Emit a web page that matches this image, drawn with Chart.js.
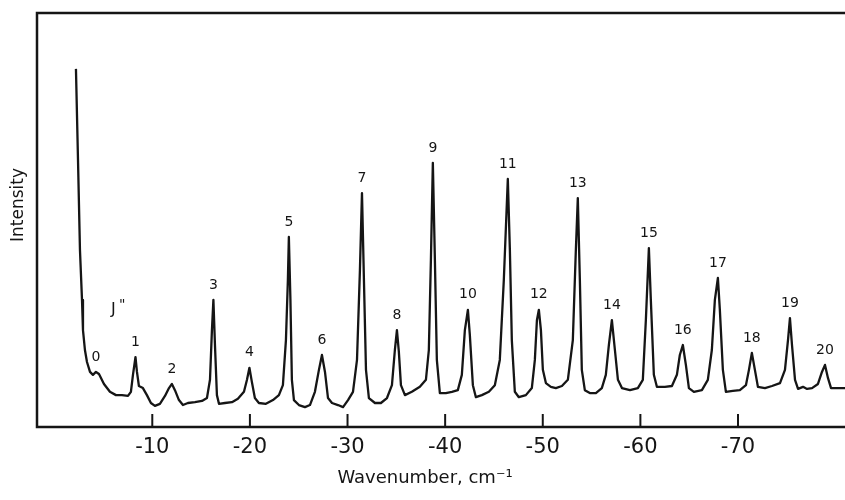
<!DOCTYPE html>
<html>
<head>
<meta charset="utf-8">
<script src="https://cdn.jsdelivr.net/npm/chart.js@4"></script>
<style>
  html, body { margin: 0; padding: 0; background: #fff; }
  canvas { display: block; }
</style>
</head>
<body>
<canvas id="spectrum" width="845" height="500"></canvas>
<script>
// Raman spectrum, wavenumber shift (cm-1) vs intensity (arbitrary units, 0..100)
const wavenumber = [
  -2.18,-2.39,-2.59,-2.80,-2.90,-3.10,-3.31,-3.62,-3.92,-4.23,
  -4.54,-5.05,-5.66,-6.28,-6.89,-7.51,-7.81,-8.02,-8.28,-8.43,
  -8.63,-9.04,-9.45,-9.86,-10.27,-10.78,-11.30,-11.71,-12.01,-12.32,
  -12.73,-13.14,-13.65,-14.37,-15.09,-15.60,-15.91,-16.11,-16.26,-16.42,
  -16.62,-16.83,-17.44,-18.16,-18.77,-19.39,-19.70,-19.95,-20.20,-20.51,
  -20.92,-21.64,-22.36,-22.97,-23.38,-23.69,-23.89,-23.99,-24.15,-24.30,
  -24.51,-25.02,-25.64,-26.15,-26.66,-27.07,-27.38,-27.69,-28.00,-28.41,
  -29.02,-29.54,-30.05,-30.56,-30.97,-31.27,-31.48,-31.68,-31.89,-32.19,
  -32.81,-33.42,-34.04,-34.55,-34.85,-35.06,-35.26,-35.47,-35.88,-36.59,
  -37.41,-38.03,-38.33,-38.54,-38.74,-38.95,-39.15,-39.46,-40.07,-40.69,
  -41.30,-41.71,-42.02,-42.33,-42.53,-42.84,-43.15,-43.76,-44.48,-45.09,
  -45.60,-46.01,-46.42,-46.63,-46.83,-47.14,-47.55,-48.27,-48.88,-49.19,
  -49.40,-49.60,-49.81,-50.01,-50.32,-50.83,-51.34,-51.96,-52.57,-53.08,
  -53.39,-53.59,-53.80,-54.00,-54.31,-54.82,-55.44,-56.05,-56.46,-56.77,
  -57.08,-57.39,-57.70,-58.11,-58.93,-59.74,-60.25,-60.56,-60.87,-61.07,
  -61.38,-61.69,-62.51,-63.23,-63.74,-64.04,-64.35,-64.66,-64.97,-65.48,
  -66.30,-66.91,-67.32,-67.63,-67.94,-68.14,-68.45,-68.76,-69.47,-70.19,
  -70.81,-71.12,-71.42,-71.73,-72.04,-72.76,-73.48,-74.30,-74.81,-75.12,
  -75.32,-75.53,-75.84,-76.15,-76.66,-77.07,-77.58,-78.19,-78.60,-78.91,
  -79.22,-79.53,-80.25,-80.96
];
const intensity = [
  86.5,64.5,42.8,30.7,23.4,18.6,15.7,13.3,12.6,13.3,
  12.8,10.4,8.5,7.7,7.7,7.5,8.5,12.6,16.9,13.3,
  9.9,9.4,7.7,5.8,5.1,5.6,7.5,9.4,10.4,8.9,
  6.5,5.3,5.8,6.0,6.3,7.0,11.4,23.4,30.7,19.8,
  7.7,5.6,5.8,6.0,6.8,8.5,11.4,14.3,10.9,7.0,
  5.8,5.6,6.5,7.7,10.1,21.0,35.5,45.9,30.7,11.4,
  6.5,5.3,4.8,5.3,8.5,13.8,17.4,13.3,7.0,5.8,
  5.3,4.8,6.5,8.5,16.2,37.9,56.5,35.5,13.8,7.0,
  5.8,5.8,7.0,10.1,18.6,23.4,18.1,10.1,7.7,8.5,
  9.7,11.4,18.6,40.3,63.8,40.3,16.2,8.2,8.2,8.5,
  8.9,12.6,23.4,28.3,22.2,10.1,7.2,7.7,8.5,10.1,
  16.2,35.5,59.9,42.8,21.0,8.5,7.2,7.7,9.4,16.2,
  25.8,28.3,23.4,13.8,10.6,9.7,9.4,9.9,11.4,21.0,
  42.8,55.3,35.5,13.8,8.9,8.2,8.2,9.4,12.6,19.8,
  25.8,18.6,11.4,9.4,8.9,9.4,11.4,25.8,43.2,30.7,
  12.6,9.7,9.7,9.9,12.6,17.4,19.8,15.0,9.4,8.5,
  8.9,11.4,18.6,30.7,36.0,28.3,13.8,8.5,8.7,8.9,
  10.1,13.8,17.9,13.8,9.7,9.4,9.9,10.6,13.8,21.0,
  26.3,19.8,11.4,9.2,9.7,9.2,9.4,10.4,13.3,15.0,
  11.8,9.4,9.4,9.4
];

// Rotational line assignments J'' and their positions
const peakLabels = ['0','1','2','3','4','5','6','7','8','9','10',
                    '11','12','13','14','15','16','17','18','19','20'];
const peakWavenumber = [-4.23,-8.28,-12.01,-16.26,-19.95,-23.99,-27.38,-31.48,-35.06,-38.74,-42.33,
                        -46.42,-49.60,-53.59,-57.08,-60.87,-64.35,-67.94,-71.42,-75.32,-78.91];

const xTicks = [-10, -20, -30, -40, -50, -60, -70];
const xMin = -80.96, xMax = 1.81;

const seriesLabelPos = { x: -6.0, y: 28.4 };

const FONT = '"DejaVu Sans", sans-serif';
const INK = '#151515';

// frame, inner tick marks, peak numbers and axis titles
const decorPlugin = {
  id: 'decor',
  beforeDraw(chart) {
    const ctx = chart.ctx;
    ctx.save();
    ctx.fillStyle = '#fff';
    ctx.fillRect(0, 0, chart.width, chart.height);
    ctx.restore();
  },
  afterDraw(chart) {
    const ctx = chart.ctx;
    const area = chart.chartArea;
    const xs = chart.scales.x;
    const ys = chart.scales.y;
    ctx.save();
    ctx.strokeStyle = INK;
    ctx.lineWidth = 2.5;
    ctx.beginPath();
    ctx.moveTo(chart.width, area.top);
    ctx.lineTo(area.left, area.top);
    ctx.lineTo(area.left, area.bottom);
    ctx.lineTo(chart.width, area.bottom);
    ctx.stroke();

    ctx.lineWidth = 2;
    xTicks.forEach(v => {
      const px = xs.getPixelForValue(v);
      ctx.beginPath();
      ctx.moveTo(px, area.bottom);
      ctx.lineTo(px, area.bottom - 13);
      ctx.stroke();
    });

    ctx.fillStyle = INK;
    ctx.textAlign = 'center';
    ctx.textBaseline = 'middle';
    ctx.font = '14px ' + FONT;
    peakLabels.forEach((lbl, i) => {
      let best = 0;
      wavenumber.forEach((w, j) => {
        if (Math.abs(w - peakWavenumber[i]) < Math.abs(wavenumber[best] - peakWavenumber[i])) best = j;
      });
      const px = xs.getPixelForValue(wavenumber[best]);
      const py = ys.getPixelForValue(intensity[best]);
      ctx.fillText(lbl, px, py - 15);
    });

    // J'' marker
    const jx = xs.getPixelForValue(seriesLabelPos.x);
    const jy = ys.getPixelForValue(seriesLabelPos.y);
    ctx.font = '16px ' + FONT;
    ctx.fillText('J', jx, jy);
    ctx.font = '14px ' + FONT;
    ctx.fillText('"', jx + 9, jy - 4);

    ctx.font = '18px ' + FONT;
    ctx.fillText('Wavenumber, cm\u207B\u00B9', 425, 478);

    ctx.translate(19, 205);
    ctx.rotate(-Math.PI / 2);
    ctx.font = '17px ' + FONT;
    ctx.fillText('Intensity', 0, 0);
    ctx.restore();
  }
};

const points = wavenumber.map((w, i) => ({ x: w, y: intensity[i] }));

new Chart(document.getElementById('spectrum'), {
  type: 'line',
  data: {
    datasets: [{
      label: 'Intensity',
      data: points,
      borderColor: INK,
      borderWidth: 2.3,
      borderJoinStyle: 'round',
      pointRadius: 0,
      tension: 0,
      fill: false
    }]
  },
  options: {
    responsive: false,
    animation: false,
    layout: { padding: { top: 13, right: 0, left: 0, bottom: 0 } },
    plugins: {
      legend: { display: false },
      tooltip: { enabled: false }
    },
    scales: {
      x: {
        type: 'linear',
        reverse: true,
        min: xMin,
        max: xMax,
        grid: { display: false },
        border: { display: false },
        afterBuildTicks: axis => { axis.ticks = xTicks.map(v => ({ value: v })); },
        afterFit: axis => { axis.height = 73; },
        ticks: {
          color: INK,
          padding: 0,
          maxRotation: 0,
          font: { family: FONT, size: 21 },
          callback: v => String(v)
        }
      },
      y: {
        min: 0,
        max: 100,
        grid: { display: false },
        border: { display: false },
        ticks: { display: false },
        afterFit: axis => { axis.width = 37; }
      }
    }
  },
  plugins: [decorPlugin]
});
</script>
</body>
</html>
